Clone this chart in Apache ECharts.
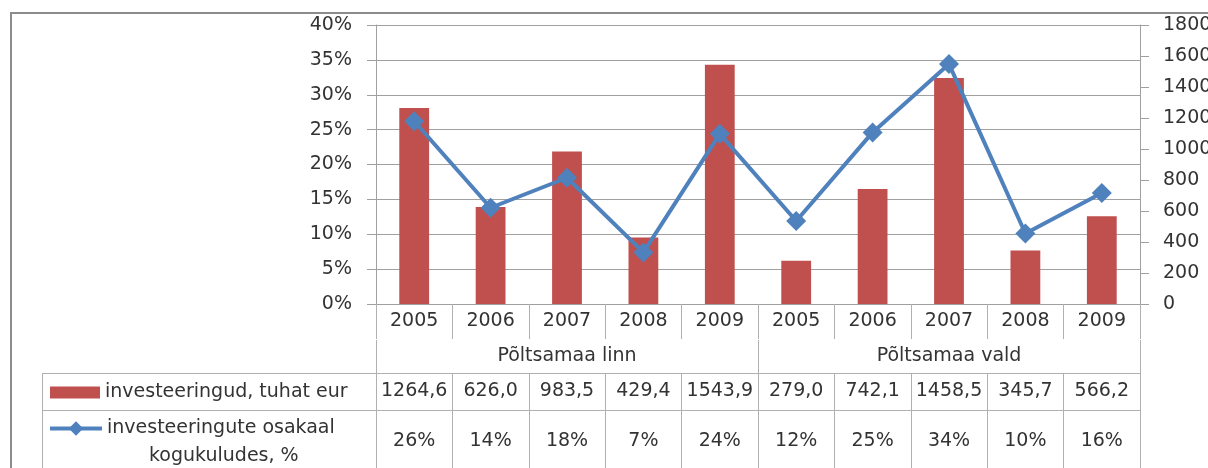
<!DOCTYPE html>
<html>
<head>
<meta charset="utf-8">
<script src="https://cdn.jsdelivr.net/npm/echarts@6/dist/echarts.min.js"></script>
<style>
  html, body { margin: 0; padding: 0; background: #fff; }
  #chart { width: 1208px; height: 468px; }
</style>
</head>
<body>
<div id="chart"></div>
<script>
// andmed
var years = ['2005', '2006', '2007', '2008', '2009', '2005', '2006', '2007', '2008', '2009'];
var groups = ['Põltsamaa linn', 'Põltsamaa vald'];
var investments = [1264.6, 626.0, 983.5, 429.4, 1543.9, 279.0, 742.1, 1458.5, 345.7, 566.2];
var investShare = [26.2, 13.8, 18.1, 7.4, 24.4, 11.9, 24.6, 34.4, 10.1, 15.9];
var barName = 'investeeringud, tuhat eur';
var lineName = 'investeeringute osakaal kogukuludes, %';

var FONT = '"DejaVu Sans", sans-serif';
var FS = 19;
var TXT = '#333333';
var GRID_C = '#a0a0a0';
var TAB_C = '#b0b0b0';
var BAR_C = '#c0504d';
var LINE_C = '#4f81bd';

var chart = echarts.init(document.getElementById('chart'));

function tableAxis(offset, tickLen, margin, fmt, lineShow, tickInterval, inside) {
  return {
    type: 'category',
    position: 'bottom',
    gridIndex: 0,
    offset: offset,
    data: years,
    axisLine: { show: lineShow, lineStyle: { color: TAB_C, width: 1 } },
    axisTick: { show: tickLen > 0, inside: !!inside, interval: tickInterval, length: tickLen, lineStyle: { color: TAB_C } },
    axisLabel: { show: !!fmt, interval: 0, margin: margin, color: TXT, fontSize: FS, fontFamily: FONT, formatter: fmt },
    splitLine: { show: false }
  };
}

var option = {
  backgroundColor: '#fff',
  animation: false,
  textStyle: { fontFamily: FONT },
  grid: { left: 376, right: 68, top: 25, bottom: 164, containLabel: false, outerBoundsMode: 'none' },
  legend: [{
    orient: 'vertical',
    left: 50, top: 383, padding: 0,
    itemWidth: 50, itemHeight: 12,
    icon: 'rect',
    data: [barName],
    textStyle: { color: TXT, fontSize: FS, fontFamily: FONT }
  }, {
    orient: 'vertical',
    left: 48, top: 391, padding: 0,
    itemWidth: 52, itemHeight: 18,
    data: [lineName],
    lineStyle: { width: 4, color: LINE_C },
    formatter: function () {
      return '{c| }\n{a|investeeringute osakaal}\n{b|kogukuludes, %}';
    },
    textStyle: {
      color: TXT, fontSize: FS, fontFamily: FONT,
      rich: {
        a: { fontSize: FS, fontFamily: FONT, color: TXT, lineHeight: 28 },
        b: { fontSize: FS, fontFamily: FONT, color: TXT, lineHeight: 28, padding: [0, 0, 0, 42] },
        c: { fontSize: FS, lineHeight: 28 }
      }
    }
  }],
  xAxis: [
    {
      type: 'category',
      position: 'bottom',
      data: years,
      axisLine: { show: true, lineStyle: { color: GRID_C, width: 1 } },
      axisTick: { show: true, interval: 0, length: 35, lineStyle: { color: TAB_C } },
      axisLabel: { interval: 0, margin: 8, color: TXT, fontSize: FS, fontFamily: FONT },
      splitLine: { show: false }
    },
    // grupi rida: silt keskmise aasta kohal
    tableAxis(36, 0, 7, function (v, i) {
      return i % 5 === 2 ? groups[Math.floor(i / 5)] : '';
    }, false, 0),
    // grupi eraldajad: sissepoole suunatud jooned rea alumisest servast
    tableAxis(69, 33, 0, null, false, function (i) { return i % 5 === 0; }, true),
    tableAxis(69, 37, 9, function (v, i) {
      return investments[i].toFixed(1).replace('.', ',');
    }, true, 0),
    tableAxis(106, 70, 22, function (v, i) {
      return Math.round(investShare[i]) + '%';
    }, true, 0)
  ],
  yAxis: [
    {
      type: 'value',
      min: 0, max: 40, interval: 5,
      position: 'left',
      axisLine: { show: true, lineStyle: { color: GRID_C } },
      axisTick: { show: true, length: 9, lineStyle: { color: GRID_C } },
      axisLabel: { margin: 24, color: TXT, fontSize: FS, fontFamily: FONT, formatter: '{value}%' },
      splitLine: { show: true, lineStyle: { color: GRID_C, width: 1 } }
    },
    {
      type: 'value',
      min: 0, max: 1800, interval: 200,
      position: 'right',
      axisLine: { show: true, lineStyle: { color: GRID_C } },
      axisTick: { show: true, length: 9, lineStyle: { color: GRID_C } },
      axisLabel: { margin: 23, color: TXT, fontSize: FS, fontFamily: FONT, formatter: function (v) { return String(v); } },
      splitLine: { show: false }
    }
  ],
  series: [
    {
      name: barName,
      type: 'bar',
      xAxisIndex: 0,
      yAxisIndex: 1,
      data: investments,
      barWidth: '39%',
      itemStyle: { color: BAR_C }
    },
    {
      name: lineName,
      type: 'line',
      xAxisIndex: 0,
      yAxisIndex: 0,
      data: investShare,
      symbol: 'diamond',
      symbolSize: 20,
      lineStyle: { color: LINE_C, width: 4 },
      itemStyle: { color: LINE_C }
    }
  ],
  graphic: [
    // välisraam
    { type: 'rect', silent: true, shape: { x: 11, y: 13, width: 1260, height: 520 },
      style: { fill: 'none', stroke: '#8c8c8c', lineWidth: 2 } },
    // legendi veeru piirjooned
    { type: 'line', silent: true, shape: { x1: 42, y1: 373.5, x2: 376, y2: 373.5 }, style: { stroke: TAB_C, lineWidth: 1 } },
    { type: 'line', silent: true, shape: { x1: 42, y1: 410.5, x2: 376, y2: 410.5 }, style: { stroke: TAB_C, lineWidth: 1 } },
    { type: 'line', silent: true, shape: { x1: 42.5, y1: 373, x2: 42.5, y2: 470 }, style: { stroke: TAB_C, lineWidth: 1 } }
  ]
};

chart.setOption(option);
</script>
</body>
</html>
